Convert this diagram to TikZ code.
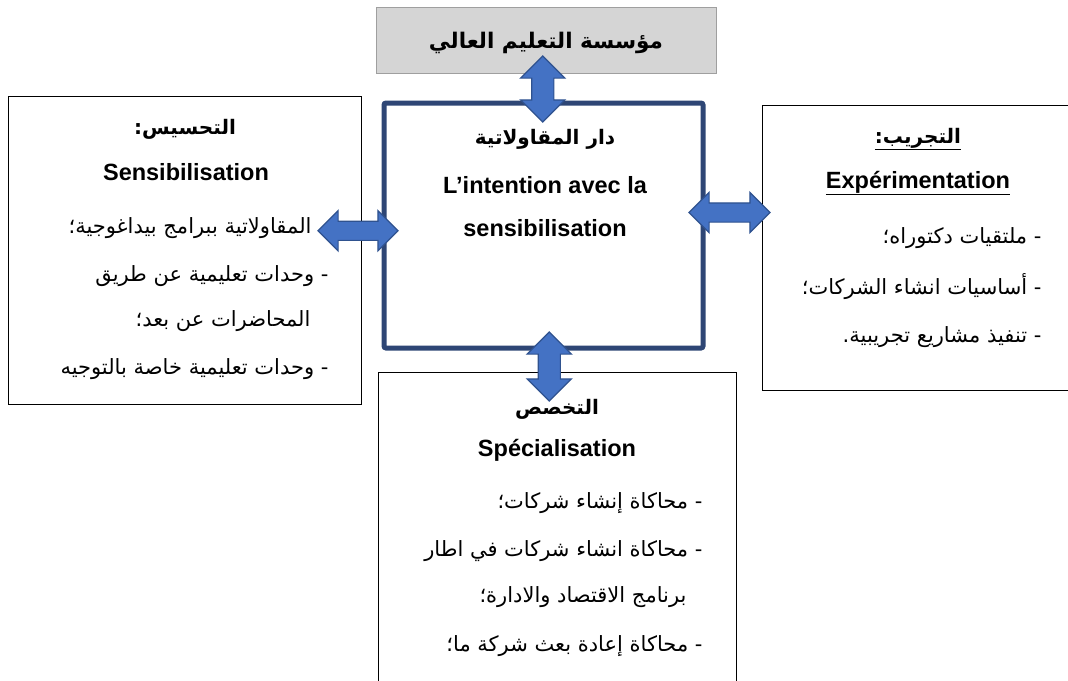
\documentclass[tikz,border=0pt]{standalone}
\usepackage{fontspec}
\usepackage{tikz}
\usetikzlibrary{shapes.arrows,calc}
\setmainfont{Liberation Sans}
\newfontfamily\arabicfont[Script=Arabic]{DejaVu Sans}
\TeXXeTstate=1
\definecolor{arrowblue}{HTML}{4472C4}
\definecolor{arrowline}{HTML}{2F528F}
\definecolor{housecol}{HTML}{2E4675}
\newcommand{\arline}[1]{\arabicfont\beginR #1\endR}

\begin{document}
\begin{tikzpicture}[x=1pt,y=-1pt,plainbox/.style={draw=black,line width=1pt,fill=white,inner sep=0pt},instbox/.style={draw=gray!75,line width=1pt,fill=gray!33,inner sep=0pt},housebox/.style={draw=housecol,line width=5pt,rounded corners=2pt,fill=white,inner sep=0pt},twoway/.style={double arrow,draw=arrowline,fill=arrowblue,line width=1.2pt,inner sep=0pt,inner ysep=10.5pt,double arrow head extend=11pt,minimum width=43pt},flatway/.style={twoway,inner ysep=9pt,double arrow head extend=10.5pt,minimum width=39pt},arhead/.style={font=\arabicfont\bfseries\fontsize{20}{24}\selectfont},lahead/.style={font=\bfseries\fontsize{23.5}{28}\selectfont},item/.style={anchor=east,font=\fontsize{21}{25}\selectfont}]
\useasboundingbox (0,0) rectangle (1068,680);
% boxes
\node[instbox,minimum width=340pt,minimum height=66pt] (inst) at (546,40) {};
\node[plainbox,minimum width=353pt,minimum height=308pt] (sens) at (184.5,250) {};
\node[housebox,minimum width=319pt,minimum height=245pt] (house) at (543.5,225.5) {};
\node[plainbox,minimum width=308pt,minimum height=285pt] (exp) at (916,247.5) {};
\node[plainbox,minimum width=358pt,minimum height=318pt] (spec) at (557,531) {};
% texts
\node[arhead,font=\arabicfont\bfseries\fontsize{21.5}{26}\selectfont] (instT) at (546,43) {\arline{مؤسسة التعليم العالي}};
\node[arhead] (sensA) at (185,129) {\arline{التحسيس:}};
\node[lahead] (sensL) at (186,172) {Sensibilisation};
\node[item] (sens1) at (315,228) {\arline{المقاولاتية ببرامج بيداغوجية؛}};
\node[item] (sens2) at (332,276) {\arline{- وحدات تعليمية عن طريق}};
\node[item] (sens3) at (314,321) {\arline{المحاضرات عن بعد؛}};
\node[item] (sens4) at (332,369) {\arline{- وحدات تعليمية خاصة بالتوجيه}};
\node[arhead] (houseA) at (545,139) {\arline{دار المقاولاتية}};
\node[lahead] (houseL1) at (545,185) {L’intention avec la};
\node[lahead] (houseL2) at (545,228) {sensibilisation};
\node[arhead] (expA) at (918,139) {\underline{\arline{التجريب:}}};
\node[lahead] (expL) at (918,183) {\underline{Expérimentation}};
\node[item] (exp1) at (1045,238) {\arline{- ملتقيات دكتوراه؛}};
\node[item] (exp2) at (1045,287) {\arline{- أساسيات انشاء الشركات؛}};
\node[item] (exp3) at (1045,337) {\arline{- تنفيذ مشاريع تجريبية.}};
\node[arhead] (specA) at (557,409) {\arline{التخصص}};
\node[lahead] (specL) at (557,450) {Spécialisation};
\node[item] (spec1) at (706,503) {\arline{- محاكاة إنشاء شركات؛}};
\node[item] (spec2) at (706,551) {\arline{- محاكاة انشاء شركات في اطار}};
\node[item] (spec3) at (690,597) {\arline{برنامج الاقتصاد والادارة؛}};
\node[item] (spec4) at (706,646) {\arline{- محاكاة إعادة بعث شركة ما؛}};
% two-way arrows
\node[twoway,minimum height=66pt,rotate=90] (upA) at ($(inst.south)!0.5!(house.north)+(-2,2)$) {};
\node[flatway,minimum height=80pt] (leftA) at ($(sens.east)!0.5!(house.west)+(-13.5,-7)$) {};
\node[flatway,minimum height=81pt] (rightA) at ($(house.east)!0.5!(exp.west)+(-4,-24)$) {};
\node[twoway,minimum height=69pt,rotate=90] (downA) at ($(house.south)!0.5!(spec.north)+(-1,5.5)$) {};
\end{tikzpicture}
\end{document}
